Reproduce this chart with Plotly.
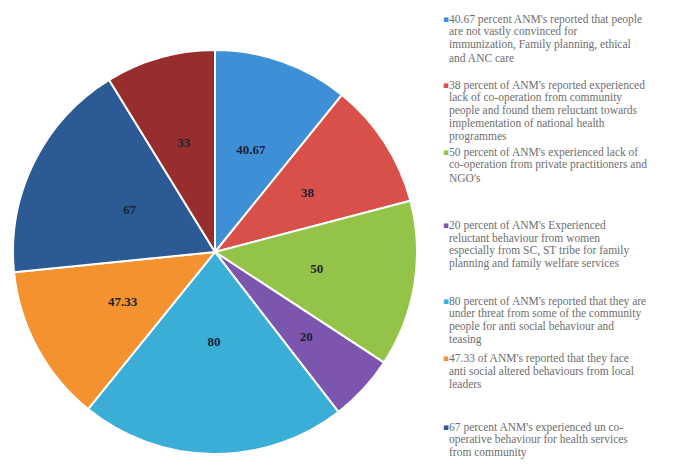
import plotly.graph_objects as go

# ---- data ----
categories = [
    "Not convinced", "Community lack of co-operation", "Private practitioners/NGOs",
    "Reluctant behaviour SC/ST", "Under threat", "Local leaders",
    "Un co-operative behaviour", "Other",
]
values = [40.67, 38, 50, 20, 80, 47.33, 67, 33]
value_labels = ["40.67", "38", "50", "20", "80", "47.33", "67", "33"]
colors = ["#3F8FD6", "#D9504A", "#93C448", "#7B55AE", "#3BAED7", "#F3922F", "#2B5A94", "#982D2D"]

legend_items = [
    ["40.67 percent ANM's reported that people", "are not vastly convinced for",
     "immunization, Family planning, ethical", "and ANC care"],
    ["38 percent of ANM's reported experienced", "lack of co-operation from community",
     "people and found them reluctant towards", "implementation of national health", "programmes"],
    ["50 percent of ANM's experienced lack of", "co-operation from private practitioners and", "NGO's"],
    ["20 percent of ANM's Experienced", "reluctant behaviour from women",
     "especially from SC, ST tribe for family", "planning and family welfare services"],
    ["80 percent of ANM's reported that they are", "under threat from some of the community",
     "people for anti social behaviour and", "teasing"],
    ["47.33 of ANM's reported that they face", "anti social altered behaviours from local", "leaders"],
    ["67 percent ANM's experienced un co-", "operative behaviour for health services", "from community"],
]
legend_top_px = [19, 85, 152, 225, 301, 358, 427]

W, H = 678, 465
CX, CY, R = 215, 252, 202   # pie centre / radius in px
R_TXT = 145                 # radius of the transparent label pie

common = dict(
    labels=categories, values=values, sort=False,
    direction="clockwise", rotation=0, showlegend=False,
)

fig = go.Figure()
fig.add_trace(go.Pie(
    **common,
    textinfo="none",
    marker=dict(colors=colors, line=dict(color="white", width=2)),
    domain=dict(x=[(CX - R) / W, (CX + R) / W], y=[1 - (CY + R) / H, 1 - (CY - R) / H]),
    hoverinfo="label+value",
))
fig.add_trace(go.Pie(
    **common,
    text=value_labels,
    textinfo="text",
    textposition="inside",
    insidetextorientation="horizontal",
    marker=dict(colors=["rgba(0,0,0,0)"] * len(values), line=dict(width=0)),
    textfont=dict(family="Liberation Serif", size=13, color="#1c2236", weight="bold"),
    domain=dict(x=[(CX - R_TXT) / W, (CX + R_TXT) / W],
                y=[1 - (CY + R_TXT) / H, 1 - (CY - R_TXT) / H]),
    hoverinfo="skip",
))

line_h = 12.9
annotations = []
for item, top, col in zip(legend_items, legend_top_px, colors):
    annotations.append(dict(
        x=441 / W, y=1 - top / H, xref="paper", yref="paper",
        text="▪", showarrow=False, xanchor="left", yanchor="middle",
        font=dict(family="DejaVu Sans", size=9, color=col),
    ))
    for i, ln in enumerate(item):
        annotations.append(dict(
            x=447 / W, y=1 - (top + i * line_h) / H, xref="paper", yref="paper",
            text=ln, showarrow=False, xanchor="left", yanchor="middle",
            font=dict(family="Liberation Serif", size=11.5, color="#6e6e6e"),
        ))

fig.update_layout(
    width=W, height=H,
    margin=dict(l=0, r=0, t=0, b=0),
    paper_bgcolor="white", plot_bgcolor="white",
    annotations=annotations,
)
fig.write_html("out.html")
